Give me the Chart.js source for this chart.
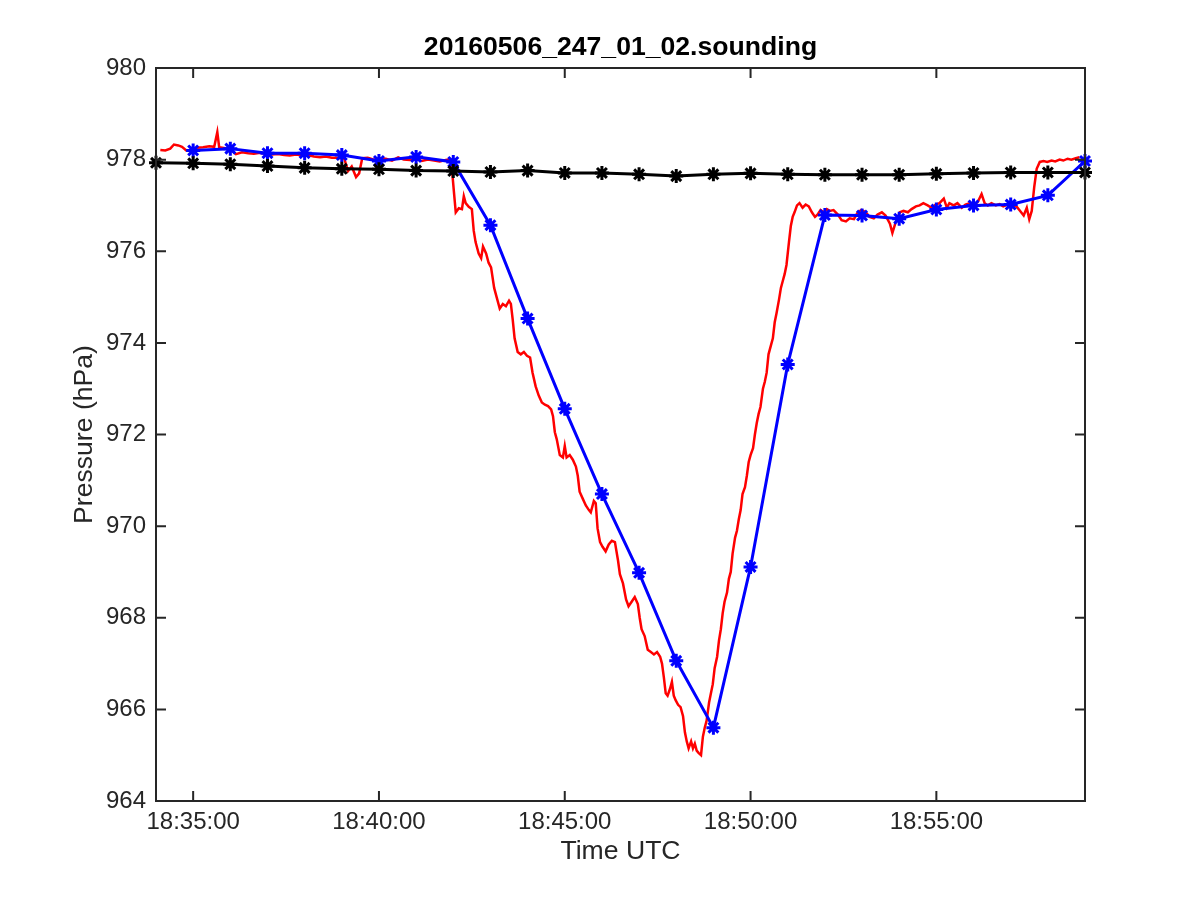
<!DOCTYPE html>
<html>
<head>
<meta charset="utf-8">
<script src="https://cdn.jsdelivr.net/npm/chart.js@4/dist/chart.umd.min.js"></script>
<style>
  body { margin: 0; background: #fff; }
  canvas { display: block; }
</style>
</head>
<body>
<canvas id="soundingChart" width="1200" height="900"></canvas>
<script>
var chartTitle = '20160506_247_01_02.sounding';

// x range and ticks
var xMin = '18:34:00';
var xMax = '18:59:00';
var xTickLabels = ['18:35:00', '18:40:00', '18:45:00', '18:50:00', '18:55:00'];

// black series (one point a minute)
var blackTimes = ['18:34:00', '18:35:00', '18:36:00', '18:37:00', '18:38:00', '18:39:00', '18:40:00',
  '18:41:00', '18:42:00', '18:43:00', '18:44:00', '18:45:00', '18:46:00', '18:47:00', '18:48:00',
  '18:49:00', '18:50:00', '18:51:00', '18:52:00', '18:53:00', '18:54:00', '18:55:00', '18:56:00',
  '18:57:00', '18:58:00', '18:59:00'];
var blackPressure = [977.93, 977.92, 977.90, 977.86, 977.82, 977.80, 977.79, 977.76, 977.75, 977.73,
  977.76, 977.71, 977.71, 977.68, 977.64, 977.68, 977.70, 977.68, 977.67, 977.67, 977.67, 977.69,
  977.71, 977.72, 977.72, 977.72];

// blue series
var blueTimes = ['18:35:00', '18:36:00', '18:37:00', '18:38:00', '18:39:00', '18:40:00', '18:41:00',
  '18:42:00', '18:43:00', '18:44:00', '18:45:00', '18:46:00', '18:47:00', '18:48:00', '18:49:00',
  '18:50:00', '18:51:00', '18:52:00', '18:53:00', '18:54:00', '18:55:00', '18:56:00', '18:57:00',
  '18:58:00', '18:59:00'];
var bluePressure = [978.20, 978.24, 978.14, 978.14, 978.10, 977.97, 978.06, 977.95, 976.57, 974.53,
  972.56, 970.70, 968.98, 967.06, 965.60, 969.11, 973.53, 976.79, 976.78, 976.71, 976.91, 977.00,
  977.02, 977.22, 977.97];

// red series (sonde record)
var redTimes = ['18:34:07','18:34:15','18:34:23','18:34:29','18:34:36','18:34:42','18:34:49','18:34:57',
  '18:35:06','18:35:16','18:35:26','18:35:34','18:35:39','18:35:42','18:35:52','18:36:01','18:36:09',
  '18:36:19','18:36:29','18:36:38','18:36:48','18:36:58','18:37:07','18:37:17','18:37:27','18:37:36',
  '18:37:46','18:37:56','18:38:05','18:38:15','18:38:25','18:38:34','18:38:44','18:38:54','18:39:04',
  '18:39:10','18:39:16','18:39:23','18:39:28','18:39:33','18:39:42','18:39:52','18:40:02','18:40:11',
  '18:40:21','18:40:31','18:40:40','18:40:50','18:41:00','18:41:09','18:41:19','18:41:29','18:41:38',
  '18:41:48','18:41:55','18:41:58','18:42:01','18:42:04','18:42:09','18:42:14','18:42:17','18:42:20',
  '18:42:25','18:42:30','18:42:33','18:42:36','18:42:41','18:42:45','18:42:48','18:42:53','18:42:57',
  '18:43:01','18:43:06','18:43:10','18:43:15','18:43:20','18:43:25','18:43:30','18:43:33','18:43:36',
  '18:43:39','18:43:44','18:43:49','18:43:54','18:43:59','18:44:04','18:44:08','18:44:13','18:44:18',
  '18:44:23','18:44:28','18:44:33','18:44:38','18:44:41','18:44:44','18:44:47','18:44:52','18:44:57',
  '18:45:00','18:45:03','18:45:08','18:45:13','18:45:18','18:45:21','18:45:24','18:45:29','18:45:34',
  '18:45:39','18:45:42','18:45:47','18:45:50','18:45:53','18:45:57','18:46:01','18:46:06','18:46:11',
  '18:46:16','18:46:21','18:46:26','18:46:29','18:46:34','18:46:39','18:46:43','18:46:48','18:46:53',
  '18:46:58','18:47:01','18:47:04','18:47:09','18:47:14','18:47:19','18:47:24','18:47:29','18:47:34',
  '18:47:37','18:47:40','18:47:43','18:47:46','18:47:50','18:47:53','18:47:56','18:47:59','18:48:03',
  '18:48:07','18:48:11','18:48:14','18:48:17','18:48:20','18:48:24','18:48:27','18:48:30','18:48:33',
  '18:48:36','18:48:40','18:48:43','18:48:46','18:48:49','18:48:53','18:48:56','18:48:59','18:49:02',
  '18:49:06','18:49:09','18:49:12','18:49:15','18:49:18','18:49:22','18:49:25','18:49:28','18:49:31',
  '18:49:35','18:49:38','18:49:41','18:49:44','18:49:47','18:49:51','18:49:54','18:49:57','18:50:00',
  '18:50:04','18:50:07','18:50:10','18:50:13','18:50:16','18:50:20','18:50:23','18:50:26','18:50:29',
  '18:50:33','18:50:36','18:50:39','18:50:42','18:50:46','18:50:49','18:50:52','18:50:55','18:50:58',
  '18:51:02','18:51:05','18:51:08','18:51:11','18:51:15','18:51:19','18:51:24','18:51:29','18:51:34',
  '18:51:39','18:51:44','18:51:48','18:51:53','18:51:58','18:52:03','18:52:08','18:52:14','18:52:21',
  '18:52:27','18:52:34','18:52:40','18:52:47','18:52:53','18:52:59','18:53:06','18:53:12','18:53:19',
  '18:53:25','18:53:32','18:53:38','18:53:45','18:53:49','18:53:54','18:54:01','18:54:07','18:54:14',
  '18:54:20','18:54:27','18:54:33','18:54:39','18:54:46','18:54:52','18:54:59','18:55:05','18:55:12',
  '18:55:17','18:55:21','18:55:28','18:55:34','18:55:41','18:55:47','18:55:54','18:56:00','18:56:07',
  '18:56:13','18:56:18','18:56:23','18:56:29','18:56:36','18:56:42','18:56:48','18:56:55','18:57:01',
  '18:57:08','18:57:14','18:57:21','18:57:26','18:57:30','18:57:34','18:57:38','18:57:42','18:57:47',
  '18:57:53','18:57:59','18:58:06','18:58:12','18:58:19','18:58:25','18:58:32','18:58:38','18:58:45',
  '18:58:51'];
var redPressure = [978.21,978.20,978.24,978.33,978.31,978.28,978.20,978.19,
  978.26,978.27,978.29,978.28,978.60,978.27,978.25,978.22,978.12,
  978.16,978.14,978.13,978.15,978.12,978.11,978.12,978.10,978.09,
  978.11,978.09,978.10,978.07,978.05,978.07,978.04,978.04,978.02,
  977.75,977.85,977.62,977.70,978.03,978.04,978.00,978.03,978.02,
  977.98,978.05,978.00,977.99,978.01,977.97,978.00,977.98,977.96,
  977.99,978.01,977.77,977.30,976.85,976.94,976.92,977.20,977.05,
  976.97,976.92,976.45,976.20,975.95,975.85,976.10,975.95,975.75,
  975.65,975.20,975.00,974.75,974.85,974.80,974.92,974.85,974.50,
  974.10,973.80,973.75,973.80,973.72,973.68,973.35,973.05,972.85,
  972.70,972.65,972.62,972.55,972.40,972.05,971.90,971.55,971.50,
  971.75,971.50,971.55,971.45,971.30,971.10,970.75,970.60,970.45,
  970.35,970.30,970.55,970.50,969.95,969.65,969.55,969.45,969.60,
  969.68,969.65,969.25,968.95,968.75,968.40,968.25,968.35,968.45,
  968.30,968.00,967.75,967.60,967.30,967.25,967.20,967.25,967.15,
  967.00,966.70,966.35,966.30,966.45,966.60,966.30,966.20,966.10,
  966.05,965.85,965.50,965.30,965.15,965.30,965.15,965.25,965.10,
  965.05,965.00,965.40,965.60,965.75,966.15,966.35,966.55,966.90,
  967.15,967.50,967.75,968.10,968.35,968.55,968.85,969.00,969.40,
  969.75,969.90,970.15,970.35,970.70,970.85,971.10,971.40,971.55,
  971.70,972.00,972.25,972.45,972.60,973.00,973.15,973.35,973.75,
  973.95,974.10,974.45,974.65,974.95,975.20,975.35,975.50,975.70,
  976.20,976.55,976.75,976.85,977.00,977.05,976.95,977.02,976.98,
  976.85,976.75,976.80,976.90,976.85,976.92,976.88,976.90,976.80,
  976.68,976.65,976.72,976.70,976.85,976.90,976.85,976.75,976.72,
  976.80,976.85,976.78,976.60,976.40,976.62,976.85,976.88,976.85,
  976.92,976.98,977.00,977.05,977.00,976.95,977.02,977.05,977.15,
  976.95,977.05,977.00,977.05,976.95,977.02,977.05,977.00,977.08,
  977.25,977.05,977.00,977.05,977.00,977.03,976.98,977.02,976.95,
  977.00,976.90,976.78,976.95,976.70,976.88,977.40,977.80,977.95,
  977.97,977.95,977.98,977.96,978.00,977.98,978.02,978.00,978.03,
  978.05];

var yTickValues = [964, 966, 968, 970, 972, 974, 976, 978, 980];

function toSec(t) {
  var p = t.split(':');
  return (+p[0]) * 3600 + (+p[1]) * 60 + (+p[2]);
}
function pad(n) { return (n < 10 ? '0' : '') + n; }
function fmtTime(s) {
  s = Math.round(s);
  return pad(Math.floor(s / 3600)) + ':' + pad(Math.floor(s / 60) % 60) + ':' + pad(s % 60);
}
function points(times, vals) {
  return times.map(function (t, i) { return { x: toSec(t), y: vals[i] }; });
}

var axisColor = '#262626';
var fontFamily = '"Liberation Sans", Arial, Helvetica, sans-serif';

// MATLAB style box with inward ticks, title centred over the axes
var boxPlugin = {
  id: 'boxPlugin',
  afterDatasetsDraw: function (chart) {
    var ctx = chart.ctx, a = chart.chartArea;
    var xs = chart.scales.x, ys = chart.scales.y;
    var len = 10;
    ctx.save();
    ctx.strokeStyle = axisColor;
    ctx.lineWidth = 2;
    ctx.beginPath();
    xTickLabels.forEach(function (t) {
      var px = xs.getPixelForValue(toSec(t));
      ctx.moveTo(px, a.bottom); ctx.lineTo(px, a.bottom - len);
      ctx.moveTo(px, a.top); ctx.lineTo(px, a.top + len);
    });
    yTickValues.forEach(function (v) {
      var py = ys.getPixelForValue(v);
      ctx.moveTo(a.left, py); ctx.lineTo(a.left + len, py);
      ctx.moveTo(a.right, py); ctx.lineTo(a.right - len, py);
    });
    ctx.stroke();
    ctx.strokeRect(a.left, a.top, a.right - a.left, a.bottom - a.top);

    ctx.fillStyle = '#000000';
    ctx.font = 'bold 26.6px ' + fontFamily;
    ctx.textAlign = 'center';
    ctx.textBaseline = 'middle';
    ctx.fillText(chartTitle, (a.left + a.right) / 2, 48);
    ctx.restore();
  }
};

Chart.defaults.font.family = fontFamily;
Chart.defaults.color = axisColor;

var ctx = document.getElementById('soundingChart').getContext('2d');
var chart = new Chart(ctx, {
  type: 'line',
  data: {
    datasets: [{
      label: 'black',
      data: points(blackTimes, blackPressure),
      borderColor: '#000000',
      backgroundColor: '#000000',
      borderWidth: 3,
      pointStyle: 'star',
      pointRadius: 7,
      pointBorderWidth: 3,
      pointBorderColor: '#000000',
      tension: 0,
      clip: false,
      order: 0
    }, {
      label: 'blue',
      data: points(blueTimes, bluePressure),
      borderColor: '#0000ff',
      backgroundColor: '#0000ff',
      borderWidth: 3,
      pointStyle: 'star',
      pointRadius: 7,
      pointBorderWidth: 3,
      pointBorderColor: '#0000ff',
      tension: 0,
      clip: false,
      order: 1
    }, {
      label: 'red',
      data: points(redTimes, redPressure),
      borderColor: '#ff0000',
      borderWidth: 2.5,
      pointRadius: 0,
      tension: 0,
      order: 2
    }]
  },
  options: {
    responsive: false,
    devicePixelRatio: 1,
    animation: false,
    layout: { padding: { top: 68, right: 115, bottom: 0, left: 0 } },
    plugins: {
      legend: { display: false },
      tooltip: { enabled: false },
      title: { display: false }
    },
    scales: {
      x: {
        type: 'linear',
        min: toSec(xMin),
        max: toSec(xMax),
        afterBuildTicks: function (scale) {
          scale.ticks = xTickLabels.map(function (t) { return { value: toSec(t) }; });
        },
        afterFit: function (scale) { scale.height = 99; },
        grid: { display: false, drawTicks: false },
        border: { display: false },
        ticks: {
          autoSkip: false,
          maxRotation: 0,
          padding: 7,
          font: { size: 24 },
          callback: function (v) { return fmtTime(v); }
        },
        title: {
          display: true,
          text: 'Time UTC',
          font: { size: 26.6 },
          padding: { top: 0, bottom: 32 }
        }
      },
      y: {
        min: 964,
        max: 980,
        afterBuildTicks: function (scale) {
          scale.ticks = yTickValues.map(function (v) { return { value: v }; });
        },
        afterFit: function (scale) { scale.width = 156; },
        grid: { display: false, drawTicks: false },
        border: { display: false },
        ticks: {
          padding: 10,
          font: { size: 24 },
          callback: function (v) { return String(v); }
        },
        title: {
          display: true,
          text: 'Pressure (hPa)',
          font: { size: 26.6 },
          padding: { top: 69, bottom: 0 }
        }
      }
    }
  },
  plugins: [boxPlugin]
});
</script>
</body>
</html>
